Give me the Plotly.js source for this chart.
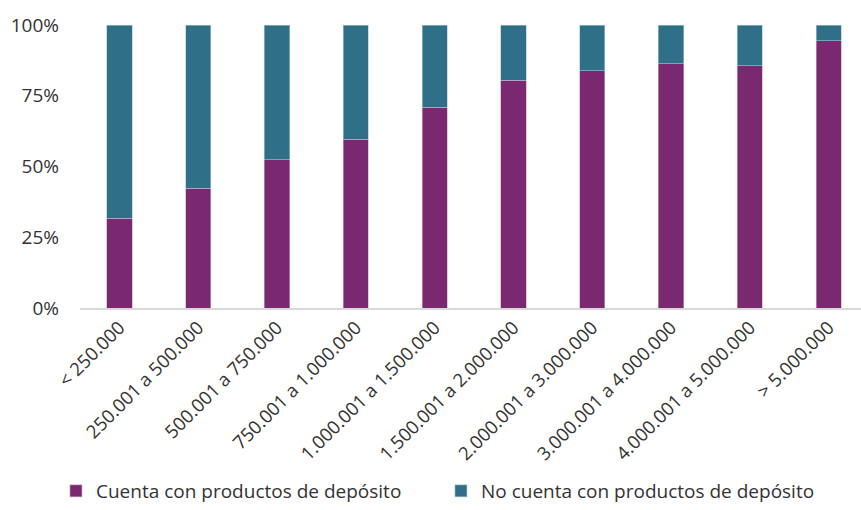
<!DOCTYPE html>
<html>
<head>
<meta charset="utf-8">
<script src="https://cdn.plot.ly/plotly-3.0.1.min.js"></script>
<style>html,body{margin:0;padding:0;background:#fff;}#chart{width:861px;height:510px;}</style>
</head>
<body>
<div id="chart"></div>
<script>
var categories = ["< 250.000", "250.001 a 500.000", "500.001 a 750.000", "750.001 a 1.000.000",
  "1.000.001 a 1.500.000", "1.500.001 a 2.000.000", "2.000.001 a 3.000.000",
  "3.000.001 a 4.000.000", "4.000.001 a 5.000.000", "> 5.000.000"];
var conProductos = [0.318, 0.424, 0.523, 0.597, 0.709, 0.805, 0.838, 0.863, 0.856, 0.944];
var sinProductos = conProductos.map(function(v){ return Math.round((1 - v) * 1000) / 1000; });
var serieNames = ["Cuenta con productos de depósito", "No cuenta con productos de depósito"];
var yTickVals = [0, 0.25, 0.5, 0.75, 1];
var yTickText = ["0%", "25%", "50%", "75%", "100%"];

var font = "Open Sans, DejaVu Sans, sans-serif";
var traces = [
  {type: "bar", name: serieNames[0], x: categories, y: conProductos,
   marker: {color: "#7A2870", line: {color: "#c9a6c4", width: 0.6}}, hoverinfo: "y"},
  {type: "bar", name: serieNames[1], x: categories, y: sinProductos,
   marker: {color: "#2F6F87", line: {color: "#a9cad6", width: 0.6}}, hoverinfo: "y"}
];
var layout = {
  width: 861, height: 510,
  barmode: "stack", bargap: 0.68,
  margin: {l: 80, r: 0, t: 25, b: 202},
  paper_bgcolor: "#fff", plot_bgcolor: "#fff",
  font: {family: font, color: "#333", size: 18},
  xaxis: {
    type: "category", range: [-0.5, 9.41], tickangle: -45,
    showline: true, linecolor: "#d9d9d9", linewidth: 1.5,
    showgrid: false, ticks: "", tickfont: {size: 18.5, color: "#333"}, fixedrange: true
  },
  yaxis: {
    range: [0, 1], tickvals: yTickVals, ticktext: yTickText,
    showgrid: false, zeroline: false, showline: false, ticks: "",
    ticklabelstandoff: 20, tickfont: {size: 19, color: "#333"}, fixedrange: true
  },
  showlegend: true,
  legend: {
    orientation: "h", xref: "container", yref: "container",
    x: 0.065, xanchor: "left", y: 0, yanchor: "bottom",
    font: {size: 19, color: "#333"}, traceorder: "normal",
    itemwidth: 30, entrywidth: 340
  }
};
Plotly.newPlot("chart", traces, layout, {displayModeBar: false, staticPlot: true});
</script>
</body>
</html>
